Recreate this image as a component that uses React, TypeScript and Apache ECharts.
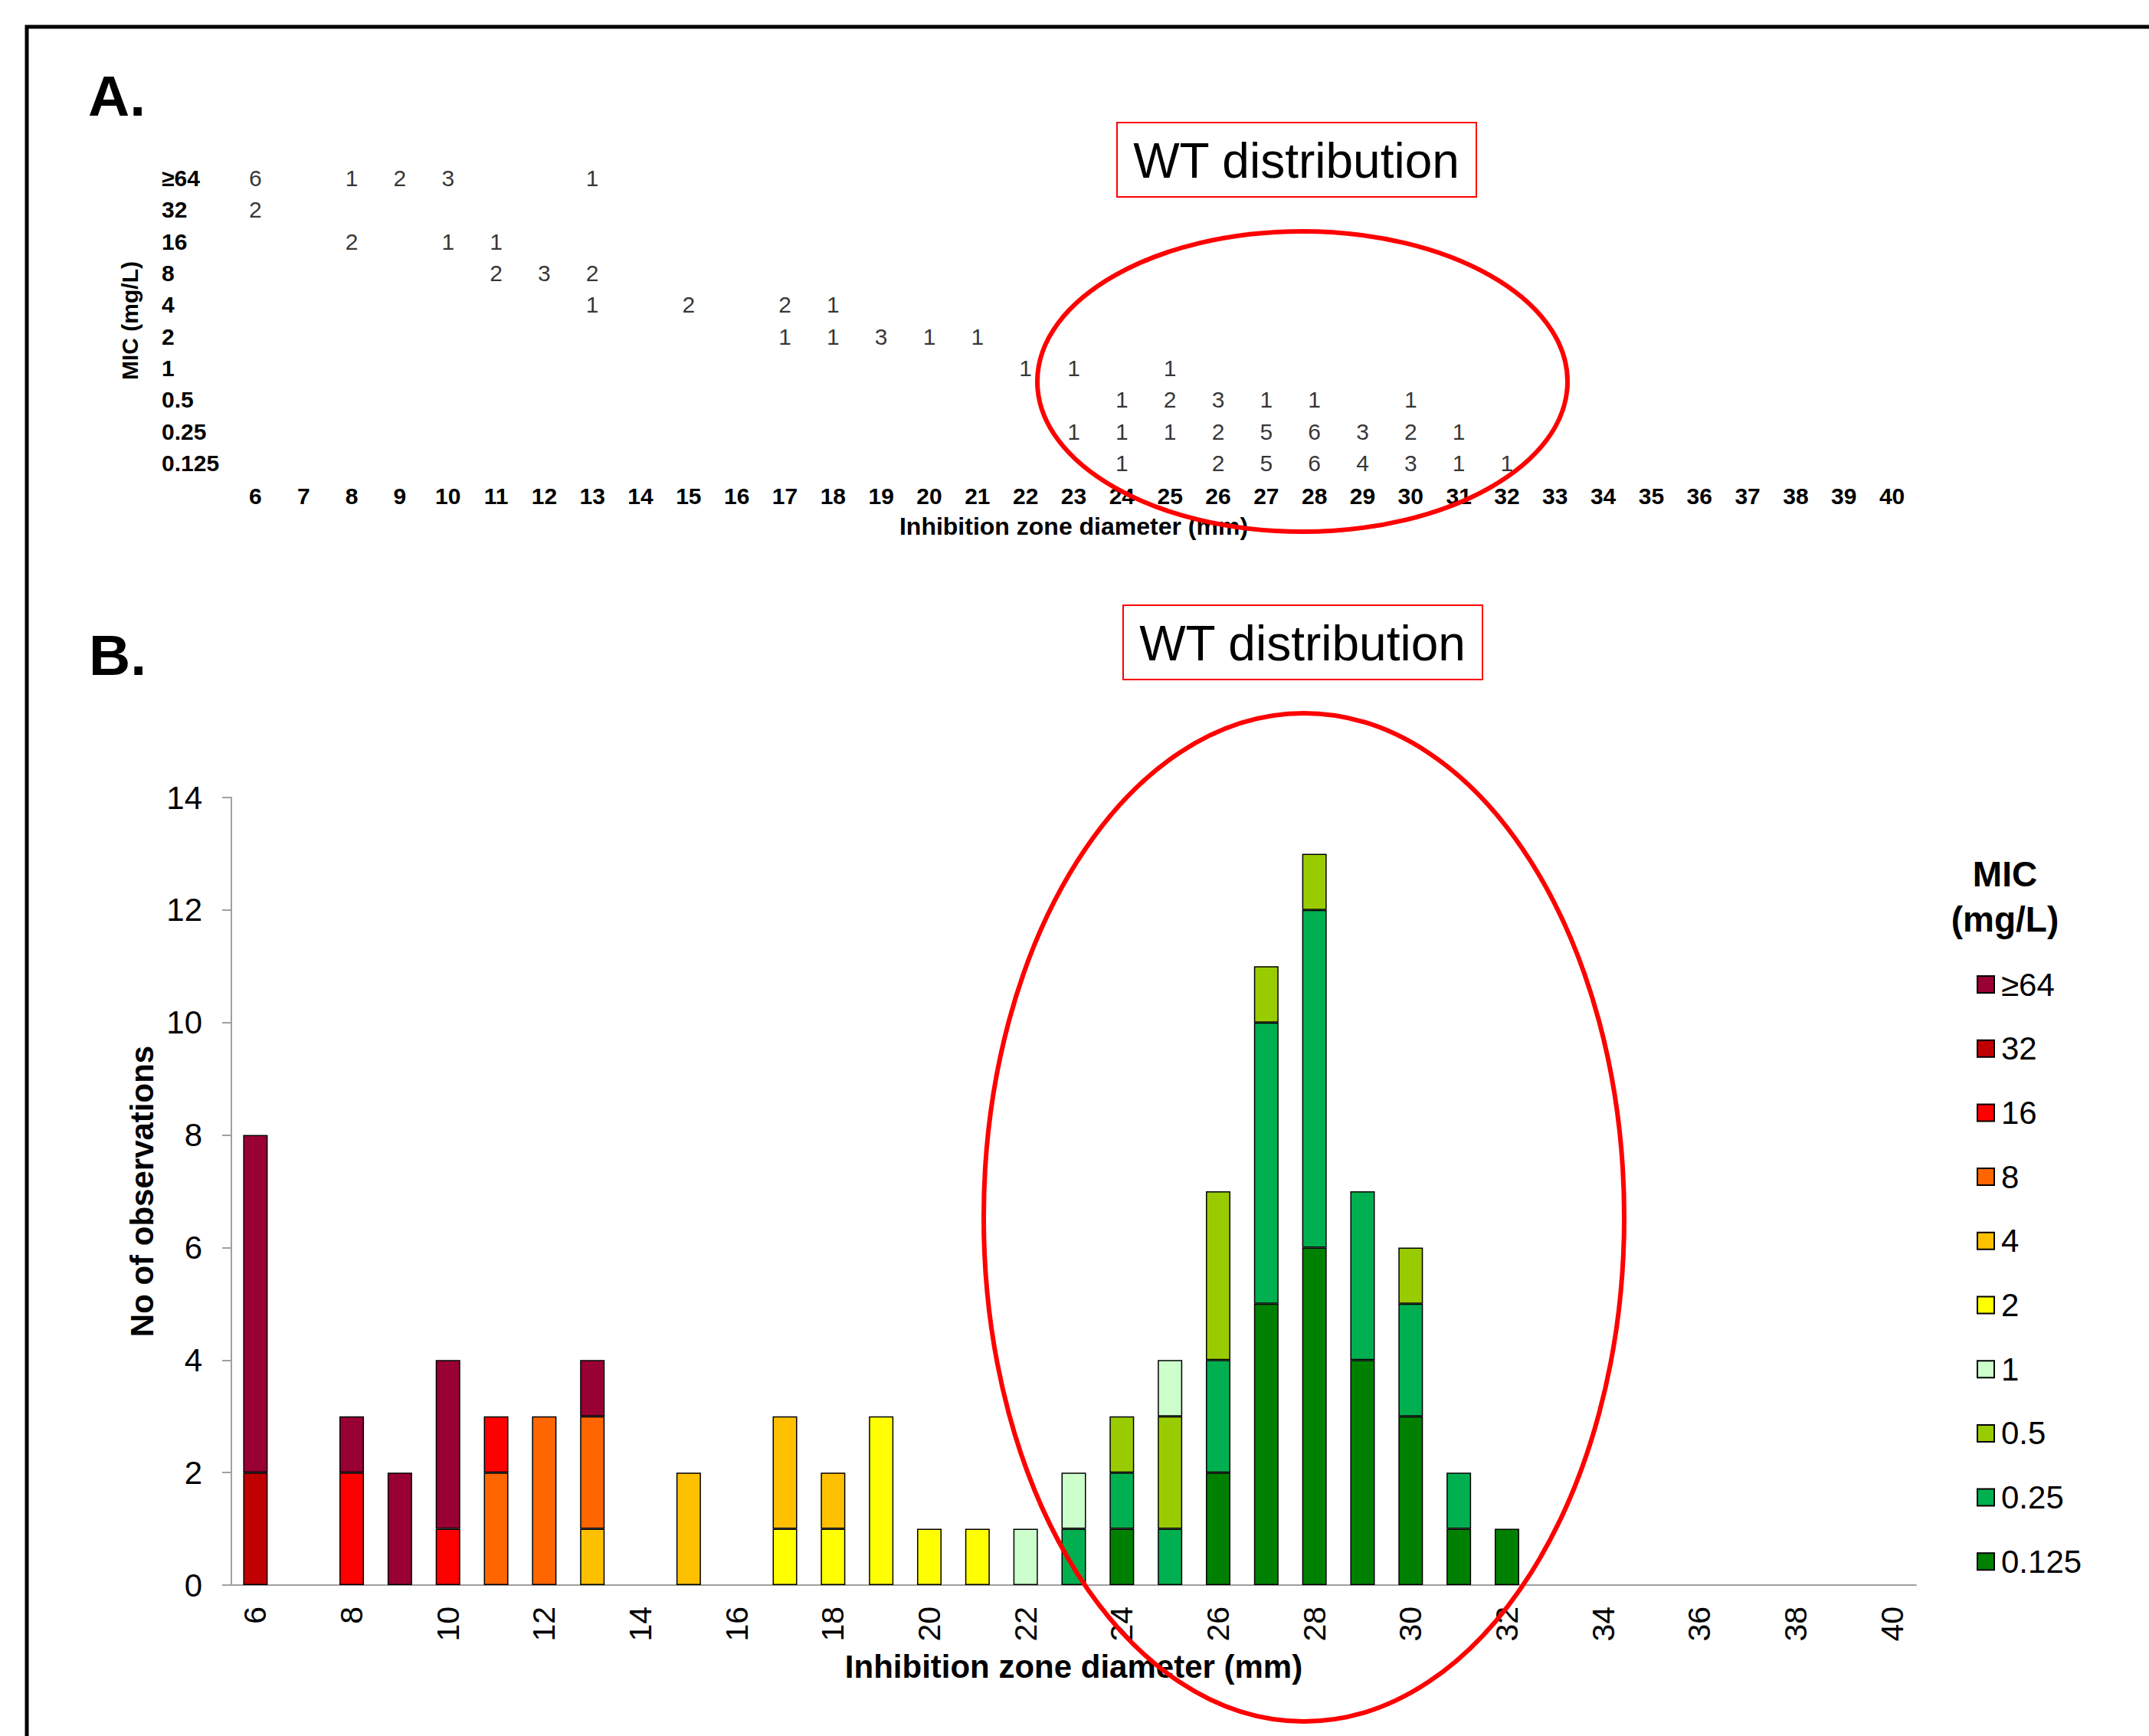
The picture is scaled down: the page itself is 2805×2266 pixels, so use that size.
import React, { useEffect, useRef } from "react";
import * as echarts from "echarts";

const FONT = '"Liberation Sans", Arial, Helvetica, sans-serif';

// Inhibition zone diameters (mm): 6..40
const zones = [
  "6", "7", "8", "9", "10", "11", "12", "13", "14", "15",
  "16", "17", "18", "19", "20", "21", "22", "23", "24", "25",
  "26", "27", "28", "29", "30", "31", "32", "33", "34", "35",
  "36", "37", "38", "39", "40",
];

// Counts per MIC (mg/L) for each zone diameter 6..40
const mic64 = [6,0,1,2,3, 0,0,1,0,0, 0,0,0,0,0, 0,0,0,0,0, 0,0,0,0,0, 0,0,0,0,0, 0,0,0,0,0];
const mic32 = [2,0,0,0,0, 0,0,0,0,0, 0,0,0,0,0, 0,0,0,0,0, 0,0,0,0,0, 0,0,0,0,0, 0,0,0,0,0];
const mic16 = [0,0,2,0,1, 1,0,0,0,0, 0,0,0,0,0, 0,0,0,0,0, 0,0,0,0,0, 0,0,0,0,0, 0,0,0,0,0];
const mic8 = [0,0,0,0,0, 2,3,2,0,0, 0,0,0,0,0, 0,0,0,0,0, 0,0,0,0,0, 0,0,0,0,0, 0,0,0,0,0];
const mic4 = [0,0,0,0,0, 0,0,1,0,2, 0,2,1,0,0, 0,0,0,0,0, 0,0,0,0,0, 0,0,0,0,0, 0,0,0,0,0];
const mic2 = [0,0,0,0,0, 0,0,0,0,0, 0,1,1,3,1, 1,0,0,0,0, 0,0,0,0,0, 0,0,0,0,0, 0,0,0,0,0];
const mic1 = [0,0,0,0,0, 0,0,0,0,0, 0,0,0,0,0, 0,1,1,0,1, 0,0,0,0,0, 0,0,0,0,0, 0,0,0,0,0];
const mic05 = [0,0,0,0,0, 0,0,0,0,0, 0,0,0,0,0, 0,0,0,1,2, 3,1,1,0,1, 0,0,0,0,0, 0,0,0,0,0];
const mic025 = [0,0,0,0,0, 0,0,0,0,0, 0,0,0,0,0, 0,0,1,1,1, 2,5,6,3,2, 1,0,0,0,0, 0,0,0,0,0];
const mic0125 = [0,0,0,0,0, 0,0,0,0,0, 0,0,0,0,0, 0,0,0,1,0, 2,5,6,4,3, 1,1,0,0,0, 0,0,0,0,0];

// MIC labels from lowest (bottom of stack / table) to highest
const micLabels = ["0.125", "0.25", "0.5", "1", "2", "4", "8", "16", "32", "≥64"];
const micCounts = [mic0125, mic025, mic05, mic1, mic2, mic4, mic8, mic16, mic32, mic64];
const micColors = [
  "#008000", "#00B050", "#99CC00", "#CCFFCC", "#FFFF00",
  "#FFC000", "#FF6600", "#FF0000", "#C00000", "#990033",
];
const yTicksB = { min: 0, max: 14, interval: 2 };

export default function App() {
  const ref = useRef<HTMLDivElement>(null);

  useEffect(() => {
    document.body.style.margin = "0";
    document.body.style.overflow = "hidden";
    if (!ref.current) return;
    const chart = echarts.init(ref.current, null, { renderer: "svg" });

    const barSeries = micLabels.map((name, k) => ({
      name,
      type: "bar",
      xAxisIndex: 1,
      yAxisIndex: 1,
      stack: "mic",
      barWidth: 32,
      data: micCounts[k].map((v) => (v > 0 ? v : null)),
      itemStyle: { color: micColors[k], borderColor: "#000", borderWidth: 1.5 },
      emphasis: { disabled: true },
      silent: true,
    }));

    const tableData: number[][] = [];
    micCounts.forEach((arr, k) => {
      arr.forEach((v, i) => {
        if (v > 0) tableData.push([i, k, v]);
      });
    });

    const option: any = {
      animation: false,
      backgroundColor: "#ffffff",
      textStyle: { fontFamily: FONT },
      grid: [
        { left: 302, top: 212, width: 2199, height: 413 },
        { left: 302, top: 1041, width: 2199, height: 1028 },
      ],
      xAxis: [
        {
          gridIndex: 0,
          type: "category",
          data: zones,
          axisLine: { show: false },
          axisTick: { show: false },
          axisLabel: { interval: 0, fontSize: 30, fontWeight: "bold", color: "#000", margin: 7, fontFamily: FONT },
          name: "Inhibition zone diameter (mm)",
          nameLocation: "middle",
          nameGap: 46,
          nameTextStyle: { fontSize: 32, fontWeight: "bold", color: "#000", fontFamily: FONT },
        },
        {
          gridIndex: 1,
          type: "category",
          data: zones,
          axisLine: { lineStyle: { color: "#A0A0A0", width: 2 } },
          axisTick: { interval: 0, length: 12, lineStyle: { color: "#A0A0A0", width: 2 } },
          axisLabel: { interval: 1, rotate: 90, fontSize: 41, color: "#000", margin: 28, fontFamily: FONT },
          name: "Inhibition zone diameter (mm)",
          nameLocation: "middle",
          nameGap: 85,
          nameTextStyle: { fontSize: 42, fontWeight: "bold", color: "#000", fontFamily: FONT },
        },
      ],
      yAxis: [
        {
          gridIndex: 0,
          type: "category",
          data: micLabels,
          axisLine: { show: false },
          axisTick: { show: false },
          splitLine: { show: false },
          axisLabel: { interval: 0, fontSize: 30, fontWeight: "bold", color: "#000", align: "left", margin: 91, fontFamily: FONT },
          name: "MIC (mg/L)",
          nameLocation: "middle",
          nameRotate: 90,
          nameGap: 118,
          nameTextStyle: { fontSize: 30, fontWeight: "bold", color: "#000", fontFamily: FONT },
        },
        {
          gridIndex: 1,
          type: "value",
          min: yTicksB.min,
          max: yTicksB.max,
          interval: yTicksB.interval,
          axisLine: { show: true, lineStyle: { color: "#A0A0A0", width: 2 } },
          axisTick: { show: true, length: 12, lineStyle: { color: "#A0A0A0", width: 2 } },
          splitLine: { show: false },
          axisLabel: { fontSize: 42, color: "#000", margin: 38, fontFamily: FONT },
          name: "No of observations",
          nameLocation: "middle",
          nameRotate: 90,
          nameGap: 95,
          nameTextStyle: { fontSize: 42, fontWeight: "bold", color: "#000", fontFamily: FONT },
        },
      ],
      legend: {
        orient: "vertical",
        left: 2575,
        top: 1259,
        itemWidth: 22,
        itemHeight: 22,
        itemGap: 41.7,
        icon: "rect",
        selectedMode: false,
        data: micLabels.slice().reverse(),
        textStyle: { fontSize: 42, color: "#000", fontFamily: FONT, padding: [0, 0, 0, 4] },
      },
      series: [
        ...barSeries,
        {
          type: "scatter",
          xAxisIndex: 0,
          yAxisIndex: 0,
          data: tableData,
          symbolSize: 1,
          itemStyle: { color: "rgba(0,0,0,0)" },
          silent: true,
          label: {
            show: true,
            position: "inside",
            formatter: (p: any) => String(p.value[2]),
            fontSize: 30,
            color: "#000",
            fontFamily: FONT,
          },
        },
      ],
      graphic: [
        {
          type: "rect",
          z: 100,
          shape: { x: 35, y: 35, width: 3000, height: 3000 },
          style: { fill: "none", stroke: "#000", lineWidth: 5 },
        },
        {
          type: "text",
          z: 100,
          x: 115,
          y: 125,
          style: { text: "A.", fontSize: 75, fontWeight: "bold", fontFamily: FONT, fill: "#000", verticalAlign: "middle" },
        },
        {
          type: "text",
          z: 100,
          x: 116,
          y: 855,
          style: { text: "B.", fontSize: 75, fontWeight: "bold", fontFamily: FONT, fill: "#000", verticalAlign: "middle" },
        },
        {
          type: "rect",
          z: 100,
          shape: { x: 1458, y: 160, width: 469, height: 97 },
          style: { fill: "#fff", stroke: "#FF0000", lineWidth: 2 },
        },
        {
          type: "text",
          z: 101,
          x: 1692,
          y: 210,
          style: { text: "WT distribution", fontSize: 64, fontFamily: FONT, fill: "#000", align: "center", verticalAlign: "middle" },
        },
        {
          type: "rect",
          z: 100,
          shape: { x: 1466, y: 790, width: 469, height: 97 },
          style: { fill: "#fff", stroke: "#FF0000", lineWidth: 2 },
        },
        {
          type: "text",
          z: 101,
          x: 1700,
          y: 840,
          style: { text: "WT distribution", fontSize: 64, fontFamily: FONT, fill: "#000", align: "center", verticalAlign: "middle" },
        },
        {
          type: "ellipse",
          z: 100,
          shape: { cx: 1700, cy: 498, rx: 346, ry: 196 },
          style: { fill: "none", stroke: "#FF0000", lineWidth: 6 },
        },
        {
          type: "ellipse",
          z: 100,
          shape: { cx: 1702, cy: 1589, rx: 418, ry: 658 },
          style: { fill: "none", stroke: "#FF0000", lineWidth: 6 },
        },
        {
          type: "text",
          z: 100,
          x: 2617,
          y: 1141,
          style: { text: "MIC", fontSize: 46, fontWeight: "bold", fontFamily: FONT, fill: "#000", align: "center", verticalAlign: "middle" },
        },
        {
          type: "text",
          z: 100,
          x: 2617,
          y: 1200,
          style: { text: "(mg/L)", fontSize: 46, fontWeight: "bold", fontFamily: FONT, fill: "#000", align: "center", verticalAlign: "middle" },
        },
      ],
    };

    chart.setOption(option);
    return () => chart.dispose();
  }, []);

  return <div ref={ref} style={{ width: 2805, height: 2266 }} />;
}
